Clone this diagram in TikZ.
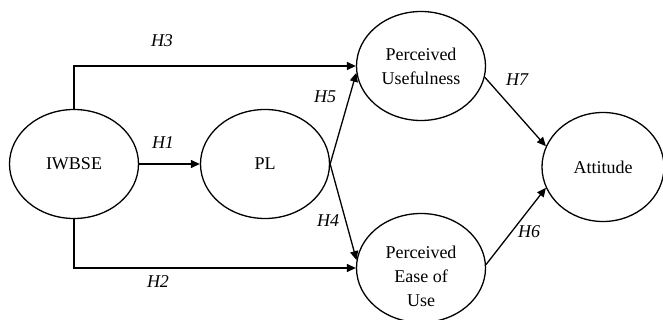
\documentclass[tikz,border=0pt]{standalone}
\usepackage{fontspec}
\setmainfont{Liberation Serif}
\usetikzlibrary{shapes.geometric,arrows.meta}
\begin{document}
\begin{tikzpicture}[x=1pt,y=-1pt,
  construct/.style={draw,ellipse,line width=1.3pt,inner sep=0pt,
    minimum width=129pt,minimum height=109pt,align=center,
    font=\fontsize{18}{24}\selectfont},
  link/.style={line width=1.3pt,-{Triangle[length=9pt,width=8pt]}},
  hyp/.style={font=\fontsize{18}{22}\selectfont\itshape,inner sep=0pt}]
\useasboundingbox (0,0) rectangle (663,320);
\node[construct] (iw) at (74,164) {IWBSE};
\node[construct] (pl) at (265,164) {PL};
\node[construct] (pu) at (421,66) {Perceived\\Usefulness};
\node[construct] (peu) at (421,268) {};
\node[align=center,font=\fontsize{18}{24}\selectfont,inner sep=0pt] (peut) at (421,276) {Perceived\\Ease of\\Use};
\node[construct,minimum width=122pt] (att) at (603,167) {Attitude};
\draw[link] (iw) -- (pl);
\draw[link] (iw.north) |- (pu);
\draw[link] (iw.south) |- (peu);
\draw[link] (pl.east) -- (pu.186);
\draw[link] (pl.east) -- (peu.173);
\draw[link] (pu.350) -- (att.160);
\draw[link] (peu.3) -- (att.200);
\node[hyp] (h3) at (162,41) {H3};
\node[hyp] (h1) at (163,143) {H1};
\node[hyp] (h2) at (158,282) {H2};
\node[hyp] (h5) at (325,97) {H5};
\node[hyp] (h4) at (328,221) {H4};
\node[hyp] (h7) at (517,80) {H7};
\node[hyp] (h6) at (529,232) {H6};
\end{tikzpicture}
\end{document}
